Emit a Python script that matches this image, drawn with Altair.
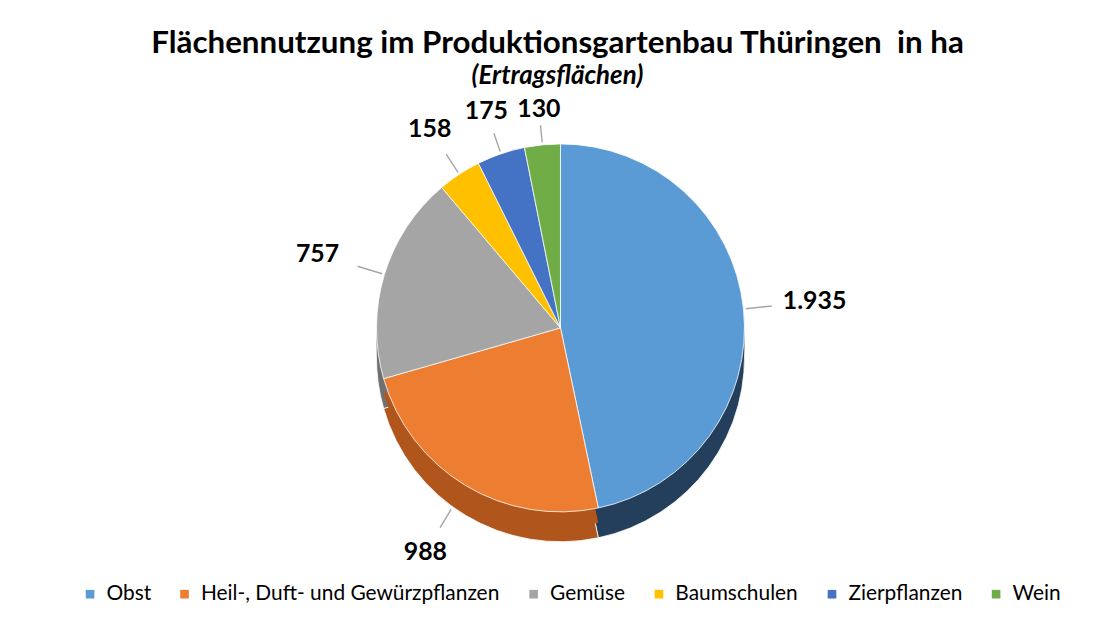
import altair as alt
import pandas as pd

categories = ["Obst", "Heil-, Duft- und Gewürzpflanzen", "Gemüse", "Baumschulen", "Zierpflanzen", "Wein"]
values = [1935, 988, 757, 158, 175, 130]
value_labels = ["1.935", "988", "757", "158", "175", "130"]
colors = ["#5B9BD5", "#ED7D31", "#A5A5A5", "#FFC000", "#4472C4", "#70AD47"]
side_colors = ["#243F5B", "#B0561C", "#707070", "#A67C00", "#2C4C84", "#4A7530"]

df = pd.DataFrame({
    "cat": categories,
    "val": values,
    "lab": value_labels,
    "ord": list(range(len(categories))),
    "side": side_colors,
})

W, H = 1095, 460
R = 185
D = 30
CX, CY = W / 2 + 3, 225

base = (
    alt.Chart(df)
    .transform_joinaggregate(total="sum(val)")
    .transform_window(cum="sum(val)", sort=[alt.SortField("ord")], frame=[None, 0])
    .transform_calculate(
        a0="(datum.cum - datum.val) / datum.total * 2 * PI",
        a1="datum.cum / datum.total * 2 * PI",
        mid="(datum.cum - datum.val / 2) / datum.total * 2 * PI",
        mid2="(datum.cum - datum.val / 2) / datum.total * 2 * PI + 0.0005",
    )
    .transform_calculate(
        lo=f"max(0, -cos(datum.mid)) * {D}",
        sp="abs(sin(datum.mid))",
    )
    .transform_calculate(
        r_in=f"{R} + 3 + datum.lo",
        r_out=f"{R} + 18 + 10 * datum.sp + datum.lo",
        r_lab=f"{R} + 32 + 40 * datum.sp + datum.lo",
    )
)

side = base.mark_arc(outerRadius=R, stroke="#FFFFFF", strokeWidth=0.8).encode(
    theta=alt.Theta("a0:Q", scale=None),
    theta2="a1:Q",
    color=alt.Color("side:N", scale=None),
    x=alt.value(CX),
    y=alt.value(CY + D),
)
side_mid = base.mark_arc(outerRadius=R).encode(
    theta=alt.Theta("a0:Q", scale=None),
    theta2="a1:Q",
    color=alt.Color("side:N", scale=None),
    x=alt.value(CX),
    y=alt.value(CY + D / 2),
)

pie = base.mark_arc(outerRadius=R, stroke="#FFFFFF", strokeWidth=0.8).encode(
    theta=alt.Theta("a0:Q", scale=None),
    theta2="a1:Q",
    color=alt.Color(
        "cat:N",
        scale=alt.Scale(domain=categories, range=colors),
        sort=categories,
        legend=alt.Legend(
            title=None,
            orient="none",
            legendX=67,
            legendY=482,
            direction="horizontal",
            symbolType="square",
            symbolSize=75,
            symbolStrokeWidth=0,
            labelFontSize=21,
            labelFont="Lato",
            labelColor="#000000",
            labelLimit=0,
            columnPadding=23,
            labelOffset=6,
        ),
    ),
    x=alt.value(CX),
    y=alt.value(CY),
)

leaders = base.mark_arc(stroke="#A6A6A6", strokeWidth=1.3, fillOpacity=0).encode(
    theta=alt.Theta("mid:Q", scale=None),
    theta2="mid2:Q",
    radius=alt.Radius("r_out:Q", scale=None),
    radius2="r_in:Q",
    x=alt.value(CX),
    y=alt.value(CY),
)

labels = base.mark_text(
    font="Lato", fontSize=25, fontWeight="bold", color="#000000",
    align="center", baseline="middle",
).encode(
    theta=alt.Theta("mid:Q", scale=None),
    radius=alt.Radius("r_lab:Q", scale=None),
    text="lab:N",
    x=alt.value(CX),
    y=alt.value(CY),
)

chart = (
    alt.layer(side, side_mid, pie, leaders, labels)
    .properties(
        width=W,
        height=H,
        padding={"top": 18, "left": 5, "right": 5, "bottom": 5},
        title=alt.TitleParams(
            text="Flächennutzung im Produktionsgartenbau Thüringen\u00a0 in ha",
            subtitle="(Ertragsflächen)",
            font="Lato",
            fontSize=31.5,
            fontWeight="bold",
            color="#000000",
            subtitleFont="Lato",
            subtitleFontSize=26,
            subtitleFontStyle="italic",
            subtitleFontWeight="bold",
            subtitleColor="#000000",
            subtitlePadding=4,
            anchor="middle",
            offset=8,
        ),
    )
    .configure_view(stroke=None)
)

chart.save("out.html", embed_options={"renderer": "svg", "actions": False})
